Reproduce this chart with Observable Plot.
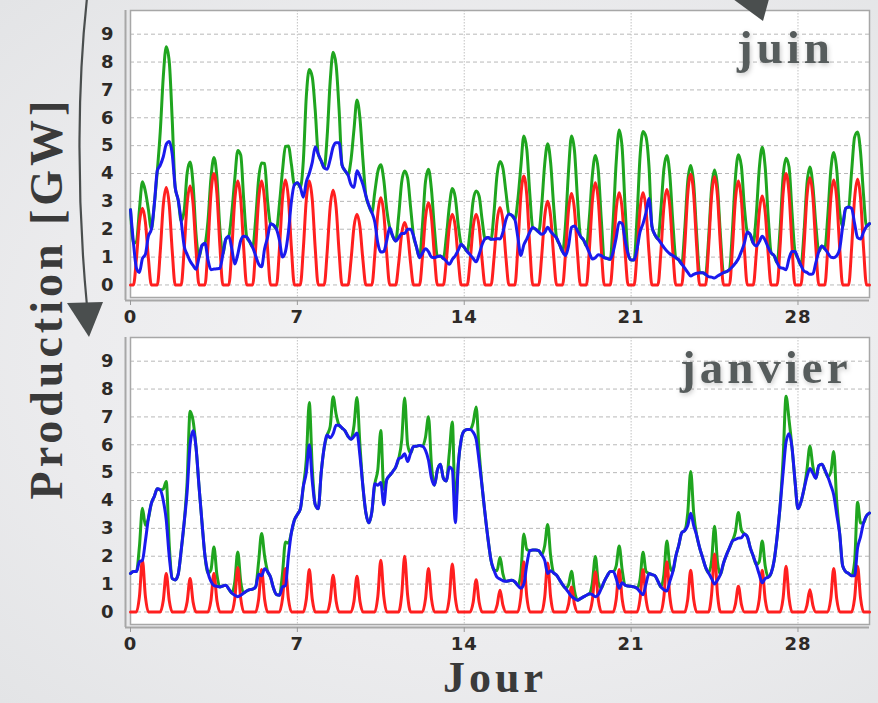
<!DOCTYPE html>
<html>
<head>
<meta charset="utf-8">
<script src="https://cdn.jsdelivr.net/npm/d3@7"></script>
<script src="https://cdn.jsdelivr.net/npm/@observablehq/plot@0.6"></script>
<style>
  html, body { margin: 0; padding: 0; }
  body {
    width: 878px; height: 703px; overflow: hidden;
    background: radial-gradient(ellipse at 55% 50%, #f4f4f5 0%, #ececee 60%, #e3e4e6 100%);
  }
  #chart { position: relative; width: 878px; height: 703px; }
</style>
</head>
<body>
<div id="chart"></div>
<script>
// Axis ticks
const joursTicks = [0, 7, 14, 21, 28];
const niveauxTicks = [0, 1, 2, 3, 4, 5, 6, 7, 8, 9];

// Sampling hours within each day (3-hour steps)
const heures = [0, 3, 6, 9, 12, 15, 18, 21];

// Daily shape of solar output, as a fraction of the day's peak
const profilJuin    = [0, 0, 0.35, 0.82, 1, 0.82, 0.35, 0];
const profilJanvier = [0, 0, 0, 0.3, 1, 0.3, 0, 0];

// Daily solar peak [GW]
const solaireJuin = [2.75, 3.5, 3.55, 4.0, 3.73, 3.73, 3.77, 3.73, 3.4, 2.54,
  3.13, 2.24, 2.95, 2.54, 2.54, 2.78, 3.91, 3.0, 3.28, 3.67,
  3.31, 3.31, 3.43, 3.97, 3.88, 3.73, 3.19, 4.0, 3.85, 3.77, 3.79];
const solaireJanvier = [1.86, 1.38, 1.2, 1.38, 1.6, 1.52, 1.56, 1.52, 1.32, 1.28,
  1.86, 2.0, 1.56, 1.72, 1.16, 0.78, 1.8, 1.76, 0.9, 1.44,
  1.52, 1.52, 1.8, 1.5, 2.08, 0.92, 1.5, 1.64, 0.8, 1.56, 1.64];

// Wind output [GW], every 3 hours (8 values per day), last value at day 31
const eolienJuin = [
  2.7, 1.5, 0.6, 0.45, 0.95, 1.1, 1.75, 2.0,
  2.9, 4.1, 4.3, 4.6, 5.05, 5.15, 4.7, 3.5,
  3.05, 2.3, 1.4, 1.1, 0.86, 0.7, 0.56, 1.0,
  1.42, 1.5, 0.9, 0.55, 0.57, 0.58, 0.6, 1.1,
  1.65, 1.75, 1.3, 0.75, 1.1, 1.6, 1.75, 1.72,
  1.55, 1.35, 1.05, 0.75, 0.65, 1.3, 1.7, 2.2,
  2.15, 2.0, 1.6, 1.0, 1.2, 1.9, 3.0, 3.6,
  3.67, 3.5, 3.15, 3.7, 4.0, 4.4, 4.95, 4.7,
  4.45, 4.2, 4.15, 4.5, 4.95, 5.1, 5.1, 4.3,
  4.1, 3.95, 3.6, 3.5, 4.1, 3.9, 3.6, 3.2,
  2.85, 2.6, 2.25, 1.5, 1.18, 1.2, 1.6, 2.05,
  1.75, 1.58, 1.7, 1.85, 1.85, 2.0, 2.0, 1.75,
  1.35, 0.98, 1.15, 1.3, 1.2, 1.0, 0.98, 1.02,
  1.04, 0.95, 0.85, 0.74, 0.92, 1.05, 1.25, 1.46,
  1.35, 1.2, 1.08, 0.95, 0.83, 1.1, 1.45, 1.66,
  1.7, 1.64, 1.64, 1.66, 1.65, 1.9, 2.35, 2.55,
  2.5, 2.35, 1.7, 1.05, 1.44, 1.65, 1.9, 2.06,
  2.0, 1.9, 1.82, 1.88, 2.07, 1.92, 1.8, 1.68,
  1.45, 1.2, 1.05, 1.4, 2.07, 2.12, 1.95, 1.75,
  1.62, 1.4, 1.15, 0.93, 0.98, 1.08, 1.05, 0.98,
  0.95, 0.92, 1.2, 1.7, 2.25, 2.2, 1.6, 1.1,
  0.9, 0.9, 1.3, 1.9, 2.2, 2.6, 3.1, 2.1,
  1.8, 1.65, 1.5, 1.35, 1.22, 1.12, 1.05, 0.98,
  0.9, 0.75, 0.6, 0.45, 0.32, 0.38, 0.42, 0.44,
  0.44, 0.38, 0.3, 0.28, 0.25, 0.32, 0.38, 0.44,
  0.48, 0.55, 0.65, 0.78, 0.94, 1.2, 1.5, 1.9,
  1.8, 1.5, 1.4, 1.55, 1.75, 1.6, 1.35, 1.15,
  1.05, 0.8, 0.62, 0.6, 0.55, 0.95, 1.2, 1.2,
  0.95, 0.7, 0.5, 0.45, 0.38, 0.4, 0.8, 1.2,
  1.4, 1.3, 1.15, 1.0, 0.98, 1.05, 1.3, 2.1,
  2.75, 2.8, 2.75, 2.2, 1.7, 1.65, 1.9, 2.1,
  2.2
];
const eolienJanvier = [
  1.38, 1.45, 1.45, 1.8, 1.86, 2.55, 3.35, 3.9,
  4.15, 4.42, 4.38, 4.0, 3.3, 2.0, 1.2, 1.15,
  1.35, 2.2, 3.2, 4.3, 6.0, 6.5, 5.9, 4.5,
  3.2, 2.0, 1.4, 1.1, 0.95, 0.92, 0.9, 0.93,
  0.96, 0.82, 0.68, 0.6, 0.55, 0.6, 0.68, 0.75,
  0.8, 0.82, 0.9, 1.35, 1.3, 1.55, 1.45, 1.25,
  0.85, 0.62, 0.6, 0.9, 0.95, 2.0, 2.85, 3.3,
  3.5, 3.7, 4.5, 5.0, 6.0, 4.7, 3.85, 3.7,
  5.0, 5.9, 6.35, 6.25, 6.4, 6.7, 6.7, 6.6,
  6.5, 6.3, 6.2, 6.3, 6.42, 5.6, 4.5, 3.55,
  3.2, 3.6, 4.6, 4.55, 4.65, 3.85, 4.75, 4.9,
  5.04, 5.2, 5.5, 5.55, 5.68, 5.4, 5.7, 5.94,
  5.95, 5.97, 5.95, 5.8, 5.45, 4.8, 4.55, 5.1,
  5.3, 4.8, 4.7, 5.2, 5.1, 3.2, 5.3, 6.2,
  6.5, 6.55, 6.55, 6.45, 6.2, 5.4, 4.5, 3.5,
  2.6, 1.85, 1.5, 1.25, 1.18, 1.12, 1.1, 1.12,
  1.14, 1.08, 0.95, 0.85, 1.0, 1.7, 2.2, 2.22,
  2.22, 2.2, 2.05, 1.85, 1.38, 1.48, 1.4, 1.32,
  1.15, 0.98, 0.85, 0.7, 0.56, 0.48, 0.42, 0.48,
  0.54, 0.6, 0.65, 0.62, 0.55, 0.62, 0.85, 1.1,
  1.3, 1.45, 1.45, 1.2, 0.85, 1.05, 0.96, 0.93,
  0.92, 0.9, 0.85, 0.72, 0.62, 1.0, 1.38, 1.34,
  1.3, 1.1, 0.9, 0.8, 0.75, 1.1, 1.45, 2.0,
  2.4, 2.85, 2.92, 3.1, 3.54, 3.1, 2.75, 2.3,
  1.95, 1.6, 1.4, 1.2, 1.0, 1.15, 1.35, 1.75,
  2.05, 2.3, 2.55, 2.6, 2.65, 2.66, 2.8, 2.7,
  2.3, 2.0, 1.7, 1.35, 1.05, 1.2, 1.25, 1.4,
  1.85, 2.7, 3.8, 5.0, 6.1, 6.4, 5.9, 4.7,
  3.7, 3.95, 4.4, 4.85, 5.15, 4.98, 4.8, 5.25,
  5.3, 5.1, 4.85, 4.55, 4.2, 3.5, 2.8, 1.65,
  1.45, 1.38, 1.3, 1.3, 2.3, 2.7, 3.2, 3.45,
  3.55
];

// Rows of {t, solaire, eolien, total}; total is solar + wind
function series(pics, profil, eolien) {
  return eolien.map((e, i) => {
    const jour = Math.floor(i / heures.length);
    const k = i % heures.length;
    const s = jour < pics.length ? pics[jour] * profil[k] : 0;
    return {t: jour + heures[k] / 24, solaire: s, eolien: e, total: s + e};
  });
}

const Y0 = -0.45, Y1 = 9.85;
const axisGray = "#a7a7a7";

function panel(rows, top) {
  const svg = Plot.plot({
    width: 878,
    height: 330,
    marginLeft: 130,
    marginRight: 9,
    marginTop: 10,
    marginBottom: 33,
    x: {domain: [0, 31]},
    y: {domain: [Y0, Y1]},
    style: {
      fontFamily: "'DejaVu Sans', sans-serif",
      fontSize: "18px",
      fontWeight: "bold",
      letterSpacing: "1px",
      color: "#2d2a27",
      background: "transparent",
      overflow: "visible"
    },
    marks: [
      Plot.frame({fill: "white", stroke: "none"}),
      Plot.gridY(niveauxTicks, {stroke: "#b8b8b8", strokeOpacity: 1, strokeDasharray: "4,3"}),
      Plot.gridX(joursTicks.slice(1), {stroke: "#c2c2c2", strokeOpacity: 1, strokeDasharray: "1.5,1.5"}),
      Plot.frame({stroke: axisGray, strokeWidth: 1.5}),
      Plot.ruleX([0], {dx: -5, stroke: axisGray, strokeWidth: 2, insetBottom: -3}),
      Plot.ruleY([Y0], {dy: 3, stroke: axisGray, strokeWidth: 2, insetLeft: -5}),
      Plot.axisY(niveauxTicks, {tickSize: 0, tickPadding: 16, label: null}),
      Plot.axisX(joursTicks, {tickSize: 5, tickPadding: 5, dy: 3, label: null, stroke: "#999"}),
      Plot.line(rows, {x: "t", y: "total", stroke: "#1fa51f", strokeWidth: 3, curve: "monotone-x"}),
      Plot.line(rows, {x: "t", y: "solaire", stroke: "#ff1f1f", strokeWidth: 3, curve: "monotone-x"}),
      Plot.line(rows, {x: "t", y: "eolien", stroke: "#1a1aee", strokeWidth: 3, curve: "monotone-x"})
    ]
  });
  svg.style.position = "absolute";
  svg.style.left = "0px";
  svg.style.top = top + "px";
  return svg;
}

const chart = document.getElementById("chart");
chart.appendChild(panel(series(solaireJuin, profilJuin, eolienJuin), 0));
chart.appendChild(panel(series(solaireJanvier, profilJanvier, eolienJanvier), 327));

// Titles, axis labels and arrows
const deco = d3.create("svg")
  .attr("width", 878).attr("height", 703)
  .style("position", "absolute").style("left", "0px").style("top", "0px")
  .style("overflow", "visible");

const defs = deco.append("defs");
defs.append("filter").attr("id", "ombre").attr("x", "-20%").attr("y", "-20%").attr("width", "140%").attr("height", "140%")
  .append("feDropShadow").attr("dx", 1).attr("dy", 2).attr("stdDeviation", 2.5)
  .attr("flood-color", "#000").attr("flood-opacity", 0.22);

const ink = "#4a4e4e";
deco.append("path")
  .attr("d", "M87,-2 C78,80 76,190 87,306")
  .attr("fill", "none").attr("stroke", ink).attr("stroke-width", 2.2);
deco.append("polygon").attr("points", "67,303 103,302 89,337").attr("fill", ink);
deco.append("polygon").attr("points", "733,-1 769,-1 763,21").attr("fill", ink);

const serif = "'Liberation Serif', 'Times New Roman', serif";
deco.append("text")
  .attr("transform", "translate(62,298) rotate(-90)")
  .attr("text-anchor", "middle")
  .attr("font-family", serif).attr("font-weight", "bold")
  .attr("font-size", 46).attr("letter-spacing", 4)
  .attr("fill", "#3a3a3a")
  .text("Production [GW]");
deco.append("text")
  .attr("x", 495).attr("y", 692)
  .attr("text-anchor", "middle")
  .attr("font-family", serif).attr("font-weight", "bold")
  .attr("font-size", 44).attr("letter-spacing", 4)
  .attr("fill", "#3a3a3a")
  .text("Jour");

const mois = [
  {nom: "juin", x: 737, y: 63},
  {nom: "janvier", x: 680, y: 383}
];
deco.selectAll("text.mois").data(mois).join("text")
  .attr("class", "mois")
  .attr("x", d => d.x).attr("y", d => d.y)
  .attr("font-family", serif).attr("font-weight", "bold")
  .attr("font-size", 47).attr("letter-spacing", 4)
  .attr("fill", "#575c5c").attr("filter", "url(#ombre)")
  .text(d => d.nom);

chart.appendChild(deco.node());
</script>
</body>
</html>
